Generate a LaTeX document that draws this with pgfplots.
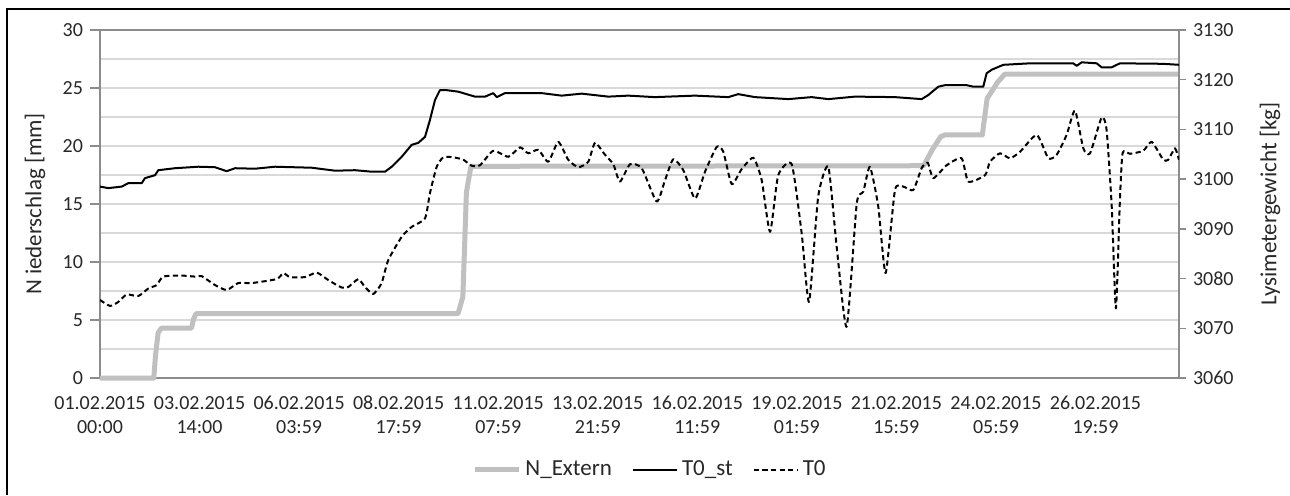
\documentclass[border=0pt]{standalone}
\usepackage{pgfplots}
\pgfplotsset{compat=1.18}
\usepackage{pgfplotstable}
\usepackage{fontspec}
\setmainfont{Carlito}
\definecolor{gridgray}{RGB}{217,217,217}
\definecolor{axisgray}{RGB}{140,140,140}
\definecolor{nextern}{RGB}{192,192,192}
\definecolor{txt}{RGB}{40,40,40}

\pgfplotstableread{
h mm
0 0
33.5 0
34.6 2.0
36.2 3.9
38.2 4.3
57.0 4.3
58.3 5.1
59.8 5.55
223.0 5.55
226.0 7.0
228.2 16.0
231.0 18.25
513.0 18.3
518.0 19.6
523.5 20.8
526.0 20.95
549.5 20.95
552.5 24.1
555.8 24.8
559.0 25.5
563.5 26.2
672 26.2
}\nextern

\pgfplotstableread{
h kg
0 3098.5
5.2 3098.2
13.5 3098.5
17.6 3099.2
26.0 3099.2
28.0 3100.2
34.3 3100.8
36.3 3101.8
46.7 3102.2
61.2 3102.5
71.6 3102.4
78.9 3101.6
84.1 3102.2
96.5 3102.1
109.0 3102.5
131.8 3102.3
146.4 3101.7
158.8 3101.8
169.2 3101.5
177.5 3101.5
181.7 3102.5
187.9 3104.5
194.1 3106.9
198.2 3107.3
202.4 3108.5
205.5 3111.9
208.6 3115.9
211.7 3117.9
215.9 3117.9
223.1 3117.6
233.5 3116.6
239.8 3116.6
244.9 3117.3
247.1 3116.5
252.2 3117.3
275.1 3117.3
287.5 3116.8
300.0 3117.2
316.6 3116.6
329.0 3116.8
345.6 3116.5
370.5 3116.8
391.3 3116.5
397.5 3117.1
407.9 3116.5
428.7 3116.1
443.2 3116.5
453.6 3116.1
470.2 3116.6
495.1 3116.5
511.7 3116.1
515.8 3116.9
522.1 3118.6
526.2 3118.9
539.8 3118.9
543.9 3118.6
550.1 3118.6
552.2 3121.3
555.3 3122.0
562.6 3123.0
579.2 3123.3
606.1 3123.3
608.3 3122.8
611.4 3123.5
620.7 3123.3
623.8 3122.5
630.1 3122.5
635.2 3123.3
662.2 3123.2
672 3123.0
}\tst

\pgfplotstableread{
h kg
0 3075.7
6.2 3074.5
11.4 3075.3
16.6 3076.8
23.9 3076.5
30.1 3078.0
35.3 3078.7
39.4 3080.4
50.9 3080.6
59.2 3080.4
63.3 3080.5
71.6 3078.7
78.9 3077.7
86.1 3079.1
94.5 3079.1
110.0 3079.9
114.2 3081.1
118.3 3080.3
127.7 3080.3
135.0 3081.2
142.2 3079.7
150.5 3078.2
154.6 3078.3
160.9 3079.9
165.0 3078.3
170.2 3076.9
175.4 3079.1
179.5 3083.7
187.9 3088.4
194.1 3090.4
202.4 3092.1
205.5 3097.2
209.7 3102.5
213.8 3104.4
220.0 3104.4
226.3 3103.9
231.5 3102.7
236.7 3102.8
244.9 3105.7
254.3 3104.5
261.6 3106.4
266.7 3105.2
273.0 3105.9
279.2 3103.5
285.4 3107.5
291.6 3103.9
297.9 3102.4
304.1 3103.5
308.3 3107.3
314.5 3104.9
319.7 3103.0
323.8 3099.5
330.1 3103.0
337.4 3102.2
346.7 3095.5
351.9 3099.8
357.0 3104.0
363.3 3101.8
370.6 3096.1
376.8 3101.5
384.1 3106.5
388.2 3105.5
393.4 3099.0
399.6 3102.0
406.9 3104.3
412.1 3099.8
417.3 3089.4
422.4 3100.8
430.8 3103.0
437.0 3089.1
441.6 3075.3
447.3 3096.5
453.6 3102.5
458.8 3086.4
465.0 3070.3
471.3 3095.1
475.4 3097.5
479.5 3102.5
484.7 3094.5
489.3 3081.1
495.1 3097.8
500.3 3098.5
506.5 3097.8
511.7 3102.2
515.5 3103.3
519.0 3100.2
527.3 3102.8
536.6 3104.2
540.8 3099.5
551.2 3100.8
554.3 3103.5
560.5 3105.2
566.7 3104.2
573.0 3105.5
583.4 3108.9
590.6 3104.2
595.8 3104.9
602.0 3108.9
607.2 3113.8
612.4 3106.2
616.6 3105.2
623.8 3112.4
626.9 3109.9
630.1 3094.5
632.7 3074.0
635.2 3095.8
636.9 3105.3
641.5 3105.1
649.7 3105.7
655.0 3107.5
662.2 3103.9
665.3 3103.9
669.5 3106.2
672 3103.9
}\tnull

\begin{document}
\begin{tikzpicture}
\path[use as bounding box] (0,0) rectangle (645pt,247.5pt);
\fill[white] (0,0) rectangle (645pt,247.5pt);
\draw[black, line width=0.8pt] (3.5pt,0) -- (3.5pt,243pt) -- (645pt,243pt);

\begin{axis}[
  at={(50pt,58.5pt)}, anchor=south west, scale only axis,
  width=539.5pt, height=174pt,
  xmin=0, xmax=672, ymin=0, ymax=30,
  axis x line*=bottom, axis y line*=left,
  axis line style={axisgray, line width=0.8pt},
  tick align=outside, major tick length=5pt,
  xtick={0,62,124,186,248,310,372,434,496,558,620},
  xticklabels={{01.02.2015\\00:00},{03.02.2015\\14:00},{06.02.2015\\03:59},{08.02.2015\\17:59},{11.02.2015\\07:59},{13.02.2015\\21:59},{16.02.2015\\11:59},{19.02.2015\\01:59},{21.02.2015\\15:59},{24.02.2015\\05:59},{26.02.2015\\19:59}},
  xticklabel style={align=center, font=\fontsize{10}{12}\selectfont, text=txt, yshift=-0.5pt},
  xtick style={draw=none},
  ytick={0,5,...,30},
  minor ytick={2.5,7.5,...,27.5},
  ymajorgrids, yminorgrids,
  major grid style={gridgray, line width=0.7pt},
  minor grid style={gridgray, line width=0.7pt},
  minor tick length=0pt,
  ytick style={axisgray, line width=0.7pt},
  yticklabel style={font=\fontsize{10}{12}\selectfont, text=txt},
  /pgf/number format/assume math mode=true,
  ylabel={N iederschlag [mm]},
  ylabel style={at={(axis description cs:-0.0602,0.5)}, anchor=center, font=\fontsize{11.5}{13}\selectfont, text=txt},
  clip=false,
]
\addplot[nextern, line width=2.5pt, line join=round] table[x=h, y=mm] {\nextern};
\draw[axisgray, line width=0.8pt] (axis description cs:0,1) -- (axis description cs:1,1);
\end{axis}

\begin{axis}[
  at={(50pt,58.5pt)}, anchor=south west, scale only axis,
  width=539.5pt, height=174pt,
  xmin=0, xmax=672, ymin=3060, ymax=3130,
  axis x line=none, axis y line*=right,
  axis line style={axisgray, line width=0.8pt},
  tick align=outside, major tick length=3.5pt,
  ytick={3060,3070,...,3130},
  ytick style={axisgray, line width=0.7pt},
  yticklabel style={font=\fontsize{10}{12}\selectfont, text=txt, /pgf/number format/1000 sep={}},
  /pgf/number format/assume math mode=true,
  ylabel={Lysimetergewicht [kg]},
  ylabel style={at={(axis description cs:1.0843,0.5)}, anchor=center, font=\fontsize{11.5}{13}\selectfont, text=txt},
  legend style={at={(axis description cs:0.5107,-0.264)}, anchor=center, draw=none, fill=none,
    font=\fontsize{11.5}{13}\selectfont, text=txt, legend columns=3,
    /tikz/every even column/.append style={column sep=8pt}},
  legend image code/.code={\draw[#1] (0pt,0pt) -- (22pt,0pt);},
]
\addlegendimage{nextern, line width=2.5pt}
\addlegendentry{N\_Extern}
\addplot[black, line width=1pt, line join=round] table[x=h, y=kg] {\tst};
\addlegendentry{T0\_st}
\addplot[black, line width=1pt, dash pattern=on 2.6pt off 1.7pt, smooth, tension=0.35, line join=round] table[x=h, y=kg] {\tnull};
\addlegendentry{T0}
\end{axis}
\end{tikzpicture}
\end{document}
